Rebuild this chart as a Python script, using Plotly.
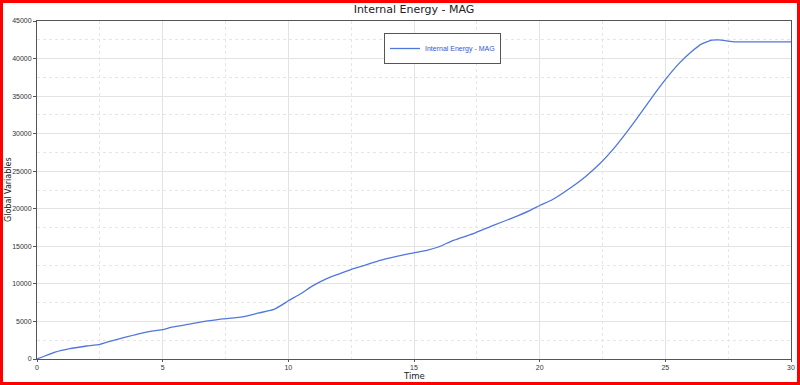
import plotly.graph_objects as go

time = [0, 0.72, 1.31, 1.98, 2.5, 2.9, 3.56, 4.09, 4.62, 5.0, 5.4, 6.06, 6.72, 7.38, 8.17,
        8.83, 9.43, 9.89, 10.0, 10.47, 11.0, 11.53, 12.06, 12.59, 13.12, 13.65, 14.31,
        15.04, 15.51, 15.97, 16.57, 17.36, 18.16, 18.95, 19.62, 20.0, 20.5, 21.16, 21.83,
        22.42, 23.02, 23.54, 24.07, 24.6, 25.0, 25.53, 26.06, 26.45, 26.85, 27.12, 27.78,
        28.83, 30.0]
energy = [0, 930, 1390, 1730, 1960, 2360, 2930, 3380, 3730, 3920, 4270, 4630, 5030, 5330, 5600,
          6130, 6600, 7500, 7750, 8650, 9800, 10700, 11370, 12030, 12560, 13140, 13670,
          14160, 14470, 14910, 15800, 16690, 17800, 18820, 19790, 20440, 21200, 22630, 24310,
          26090, 28310, 30530, 32970, 35430, 37200, 39290, 40970, 41960, 42440, 42490, 42230,
          42230, 42230]

W, H = 800, 385
ml, mr, mt, mb = 37, 9, 21, 26
pw, ph = W - ml - mr, H - mt - mb

fig = go.Figure()
fig.add_trace(go.Scatter(x=time, y=energy, mode="lines", name="Internal Energy - MAG",
                         line=dict(color="#5077dc", width=1.3, shape="spline", smoothing=0.4)))

font = "Liberation Sans"
fig.update_layout(
    width=W, height=H,
    margin=dict(l=ml, r=mr, t=mt, b=mb, autoexpand=False),
    paper_bgcolor="white", plot_bgcolor="white",
    font=dict(family=font, size=7, color="#333"),
    title=dict(text="Internal Energy - MAG", x=(ml + pw / 2) / W, xanchor="center",
               y=1 - 9 / H, yanchor="middle", font=dict(family="DejaVu Sans", size=11, color="#222")),
    showlegend=True,
    legend=dict(x=(384 - ml) / pw, y=(359 - 33) / ph, xanchor="left", yanchor="top",
                bgcolor="white", bordercolor="#555", borderwidth=1,
                font=dict(size=7, color="#3355cc"), itemwidth=30, tracegroupgap=0),
    xaxis=dict(range=[0, 30], dtick=5, tick0=0, showgrid=True, gridcolor="#e3e3e3",
               gridwidth=1, zeroline=False, showline=True, linecolor="#555", linewidth=1,
               mirror=True, ticks="outside", ticklen=2, tickcolor="#555", automargin=False,
               tickfont=dict(size=7, color="#333"),
               minor=dict(dtick=2.5, showgrid=True, gridcolor="#e6e6e6", griddash="dot")),
    yaxis=dict(range=[0, 45000], dtick=5000, tick0=0, showgrid=True, gridcolor="#e3e3e3",
               gridwidth=1, zeroline=False, showline=True, linecolor="#555", linewidth=1,
               mirror=True, ticks="outside", ticklen=3, tickcolor="#555", automargin=False,
               tickformat="d", tickfont=dict(size=7, color="#333"),
               minor=dict(dtick=2500, showgrid=True, gridcolor="#e6e6e6", griddash="dot")),
    annotations=[
        dict(text="Time", xref="paper", yref="paper", x=(414 - ml) / pw, y=-(376 - 359) / ph,
             xanchor="center", yanchor="middle", showarrow=False,
             font=dict(family="DejaVu Sans", size=8.5, color="#222")),
        dict(text="Global Variables", xref="paper", yref="paper", x=-(ml - 8) / pw,
             y=(359 - 190) / ph, xanchor="center", yanchor="middle", showarrow=False,
             textangle=-90, font=dict(family="DejaVu Sans", size=8, color="#222")),
    ],
)

# red frame around the whole image
fig.add_shape(type="rect", xref="paper", yref="paper",
              x0=(-ml + 1.5) / pw, x1=(pw + mr - 1.5) / pw,
              y0=(-mb + 1.5) / ph, y1=(ph + mt - 1.5) / ph,
              line=dict(color="#ff0000", width=3), fillcolor="rgba(0,0,0,0)", layer="above")

fig.write_html("out.html", config={"displayModeBar": False},
               post_script="document.body.style.margin='0';document.body.style.overflow='hidden';")
